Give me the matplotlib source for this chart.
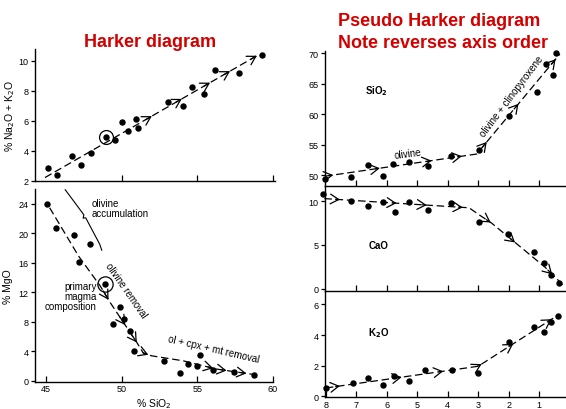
import numpy as np
import matplotlib
matplotlib.use("Agg")
import matplotlib.pyplot as plt

plt.rcParams['font.family'] = ['Liberation Sans', 'DejaVu Sans']

W, H = 566, 410

# ---------------- data ----------------
# Left top: SiO2 vs Na2O+K2O
alk_sio2 = [45.15, 45.71, 46.70, 47.29, 47.99, 48.97, 49.58, 50.00, 50.40, 50.93, 51.06,
            53.06, 54.05, 54.63, 55.46, 56.15, 57.74, 59.28]
alk_val = [2.9, 2.38, 3.67, 3.05, 3.89, 4.96, 4.71, 5.91, 5.36, 6.11, 5.53,
           7.27, 7.0, 8.27, 7.8, 9.4, 9.2, 10.4]
alk_primary = (48.97, 4.96)
alk_trend_x = [44.93, 58.98]
alk_trend_y = [2.23, 10.38]
alk_arrows = [51.99, 53.97, 55.84, 57.16, 58.93]

# Left bottom: SiO2 vs MgO
mgo_sio2 = [45.07, 45.64, 46.82, 47.88, 47.2, 48.87, 49.9, 50.18, 49.41, 50.53, 50.8,
            52.82, 53.85, 54.36, 55.17, 54.95, 56.05, 57.43, 58.73]
mgo_val = [23.96, 20.7, 19.7, 18.6, 16.1, 13.1, 10.0, 8.4, 7.7, 6.7, 4.0,
           2.7, 1.05, 2.27, 3.5, 1.95, 1.45, 1.2, 0.8]
mgo_primary = (48.87, 13.1)
mgo_trend_x = [45.24, 47.15, 48.58, 49.24, 51.0, 51.43, 51.98, 54.07, 56.27, 58.68]
mgo_trend_y = [23.45, 16.9, 12.85, 10.6, 5.19, 3.74, 3.38, 2.7, 1.58, 0.86]
mgo_arrows = [49.13, 50.23, 51.0, 51.76, 56.05, 56.93, 58.24]
accum_x = [46.27, 47.5, 47.45, 47.62, 48.55, 48.68]
accum_y = [25.9, 22.5, 22.05, 22.1, 18.5, 17.7]

# Right panels: pseudo Harker (index 8 .. 0)
ps_x = [8.03, 7.19, 6.63, 6.12, 5.81, 5.26, 4.66, 3.89, 2.98, 1.98, 1.08, 0.77, 0.54, 0.45]
sio2_val = [49.34, 49.6, 51.6, 49.9, 51.76, 52.1, 51.5, 53.1, 54.1, 59.65, 63.6, 68.25, 66.45, 70.07]
sio2_trend_x = [8.03, 3.05, 0.32]
sio2_trend_y = [49.8, 53.45, 69.9]
sio2_arrows = [7.76, 6.23, 4.53, 3.54, 2.72, 1.68, 0.46]

cao_x = [8.1, 7.19, 6.63, 6.12, 5.73, 5.27, 4.64, 3.89, 2.98, 2.01, 1.17, 0.83, 0.62, 0.34]
cao_val = [10.83, 10.07, 9.43, 9.88, 8.78, 9.88, 9.0, 9.77, 7.6, 6.2, 4.18, 2.96, 1.52, 0.65]
cao_trend_x = [8.05, 3.3, 2.95, 2.56, 0.81, 0.15]
cao_trend_y = [10.3, 9.25, 8.4, 7.5, 2.47, 0.2]
cao_arrows = [7.54, 5.68, 4.69, 3.51, 2.59, 1.79, 0.57]

k2o_x = [8.0, 7.12, 6.61, 6.12, 5.77, 5.26, 4.75, 3.87, 3.0, 1.99, 1.17, 0.83, 0.62, 0.37]
k2o_val = [0.54, 0.85, 1.18, 0.74, 1.35, 1.02, 1.72, 1.74, 1.52, 3.57, 4.55, 4.18, 4.84, 5.27]
k2o_trend_x = [8.0, 3.0, 0.54]
k2o_trend_y = [0.54, 1.96, 5.1]
k2o_arrows = [7.54, 5.51, 4.15, 2.89, 1.85, 0.59]

# ---------------- figure ----------------
fig = plt.figure(figsize=(W / 100, H / 100), dpi=100)


def rect(l, t, r, b):
    return [l / W, 1 - b / H, (r - l) / W, (b - t) / H]


TICK_FS = 6.5
TXT_FS = 7


def style(ax):
    for s in ('top', 'right'):
        ax.spines[s].set_visible(False)
    for s in ('left', 'bottom'):
        ax.spines[s].set_linewidth(1.0)
    ax.tick_params(axis='y', direction='out', length=3, width=0.9, labelsize=TICK_FS, pad=1.5)
    ax.tick_params(axis='x', direction='in', length=4, width=0.9, labelsize=TICK_FS, pad=2)
    ax.patch.set_alpha(0)


def trend(ax, tx, ty, arrows, step):
    ax.plot(tx, ty, color='black', lw=0.9, dashes=(6, 3), clip_on=False)
    txa = np.asarray(tx, float)
    tya = np.asarray(ty, float)
    order = np.argsort(txa)
    for xa in arrows:
        ya = np.interp(xa, txa[order], tya[order])
        xb = xa - step
        yb = np.interp(xb, txa[order], tya[order])
        ax.annotate('', xy=(xa, ya), xytext=(xb, yb),
                    arrowprops=dict(arrowstyle='->,head_length=0.6,head_width=0.35',
                                    lw=0.9, color='black', shrinkA=0, shrinkB=0),
                    annotation_clip=False)


def dots(ax, x, y):
    ax.plot(x, y, 'o', color='black', ms=3.6, clip_on=False, zorder=3)


# Left top
ax1 = fig.add_axes(rect(35, 50, 275, 182))
style(ax1)
ax1.set_xlim(44.27, 60.13)
ax1.set_ylim(2, 10.8)
ax1.set_yticks([2, 4, 6, 8, 10])
ax1.set_xticks([50, 55, 60])
ax1.set_xticklabels([])
dots(ax1, alk_sio2, alk_val)
ax1.plot(*alk_primary, 'o', mfc='none', mec='black', ms=10, mew=0.9)
trend(ax1, alk_trend_x, alk_trend_y, alk_arrows, 0.4)
ax1.set_ylabel('% Na$_2$O + K$_2$O', fontsize=7.5, labelpad=1)

# Left bottom
ax2 = fig.add_axes(rect(35, 190, 273, 382.7))
style(ax2)
ax2.set_xlim(44.27, 60.0)
ax2.set_ylim(-0.13, 26)
ax2.set_yticks([0, 4, 8, 12, 16, 20, 24])
ax2.set_xticks([45, 50, 55, 60])
dots(ax2, mgo_sio2, mgo_val)
ax2.plot(*mgo_primary, 'o', mfc='none', mec='black', ms=11, mew=0.9)
trend(ax2, mgo_trend_x, mgo_trend_y, mgo_arrows, 0.35)
ax2.plot(accum_x, accum_y, color='black', lw=0.8, clip_on=False)
ax2.text(48.0, 23.4, 'olivine\naccumulation', fontsize=TXT_FS, ha='left', va='center',
         linespacing=1.05)
ax2.text(48.35, 11.5, 'primary\nmagma\ncomposition', fontsize=TXT_FS, ha='right', va='center',
         linespacing=1.05)
ax2.text(50.26, 12.3, 'olivine removal', fontsize=TXT_FS, rotation=-55,
         ha='center', va='center', rotation_mode='anchor')
ax2.text(56.1, 4.3, 'ol + cpx + mt removal', fontsize=TXT_FS, rotation=-13,
         ha='center', va='center', rotation_mode='anchor')
ax2.set_xlabel('% SiO$_2$', fontsize=7.5, labelpad=2)
ax2.set_ylabel('% MgO', fontsize=7.5, labelpad=4)

# Right panels
xl = (8.03, 0.118)
ax3 = fig.add_axes(rect(325, 52, 566, 186.7))
style(ax3)
ax3.set_xlim(*xl)
ax3.set_ylim(48.24, 70.4)
ax3.set_yticks([50, 55, 60, 65, 70])
ax3.set_xticks([1, 2, 3, 4, 5, 6, 7])
ax3.set_xticklabels([])
dots(ax3, ps_x, sio2_val)
trend(ax3, sio2_trend_x, sio2_trend_y, sio2_arrows, -0.14)
ax3.text(6.33, 63.9, 'SiO$_\\mathbf{2}$', fontsize=TXT_FS, fontweight='bold', ha='center', va='center')
ax3.text(5.3, 53.6, 'olivine', fontsize=TXT_FS, rotation=7, ha='center', va='center',
         rotation_mode='anchor')
ax3.text(1.9, 63.0, 'olivine + clinopyroxene', fontsize=TXT_FS, rotation=53,
         ha='center', va='center', rotation_mode='anchor')

ax4 = fig.add_axes(rect(325, 187, 566, 292))
style(ax4)
ax4.set_xlim(*xl)
ax4.set_ylim(-0.26, 11.74)
ax4.set_yticks([0, 5, 10])
ax4.set_xticks([1, 2, 3, 4, 5, 6, 7])
ax4.set_xticklabels([])
dots(ax4, cao_x, cao_val)
trend(ax4, cao_trend_x, cao_trend_y, cao_arrows, -0.14)
ax4.text(6.28, 4.94, 'CaO', fontsize=TXT_FS, fontweight='bold', ha='center', va='center')

ax5 = fig.add_axes(rect(325, 292, 566, 398))
style(ax5)
ax5.set_xlim(*xl)
ax5.set_ylim(-0.05, 6.88)
ax5.set_yticks([0, 2, 4, 6])
ax5.set_xticks([1, 2, 3, 4, 5, 6, 7, 8])
ax5.set_xticklabels(['1', '2', '3', '4', '5', '6', '7', '8'])
dots(ax5, k2o_x, k2o_val)
trend(ax5, k2o_trend_x, k2o_trend_y, k2o_arrows, -0.14)
ax5.text(6.26, 4.22, 'K$_\\mathbf{2}$O', fontsize=TXT_FS, fontweight='bold', ha='center', va='center')

# Titles
red = '#d40000'
fig.text(150 / W, 1 - 47 / H, 'Harker diagram', color=red, fontsize=13, fontweight='bold',
         ha='center', va='baseline')
fig.text(338 / W, 1 - 26 / H, 'Pseudo Harker diagram', color=red, fontsize=13, fontweight='bold',
         ha='left', va='baseline')
fig.text(338 / W, 1 - 48 / H, 'Note reverses axis order', color=red, fontsize=13, fontweight='bold',
         ha='left', va='baseline')

fig.savefig('out.png', dpi=100)
